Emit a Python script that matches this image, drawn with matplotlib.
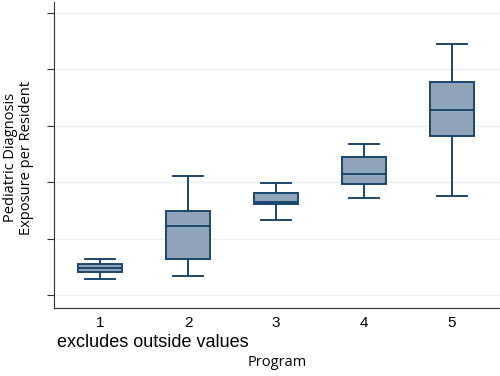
import matplotlib.pyplot as plt

# box plot summary per program (whisker low, q1, median, q3, whisker high)
programs = [1, 2, 3, 4, 5]
whislo = [0.28, 0.34, 1.33, 1.71, 1.76]
q1 = [0.41, 0.64, 1.62, 1.96, 2.81]
med = [0.48, 1.23, 1.65, 2.15, 3.27]
q3 = [0.55, 1.49, 1.81, 2.44, 3.78]
whishi = [0.64, 2.10, 1.99, 2.67, 4.44]
ytick_vals = [0, 1, 2, 3, 4, 5]

navy = '#1a476f'
fill = '#90a4b9'

plt.rcParams['font.family'] = ['Liberation Sans', 'DejaVu Sans']

fig = plt.figure(figsize=(5, 3.76), dpi=100)
ax = fig.add_axes([0.108, 0.181, 0.892, 0.815])

stats = []
for i in range(len(programs)):
    stats.append({'whislo': whislo[i], 'q1': q1[i], 'med': med[i],
                  'q3': q3[i], 'whishi': whishi[i], 'fliers': []})

ax.bxp(stats, positions=programs, widths=0.51, patch_artist=True,
       showfliers=False,
       boxprops=dict(facecolor=fill, edgecolor=navy, linewidth=1.4),
       medianprops=dict(color=navy, linewidth=1.4),
       whiskerprops=dict(color=navy, linewidth=1.4),
       capprops=dict(color=navy, linewidth=1.4),
       capwidths=0.34)

ax.set_xlim(0.477, 5.545)
ax.set_ylim(-0.23, 5.2)
ax.set_yticks(ytick_vals)
ax.set_yticklabels([])
ax.set_xticks(programs)
ax.set_xticklabels([str(p) for p in programs], fontsize=11)
ax.tick_params(axis='y', length=5, color='#333333')
ax.tick_params(axis='x', length=0, pad=6)
ax.yaxis.grid(True, color='#eaf2f3', linewidth=1)
ax.set_axisbelow(True)

for s in ['top', 'right']:
    ax.spines[s].set_visible(False)
ax.spines['left'].set_color('#333333')
ax.spines['bottom'].set_color('#333333')

fig.text(0.037, 0.58, 'Pediatric Diagnosis\nExposure per Resident', rotation=90,
         ha='center', va='center', fontsize=10.5, family=['Open Sans', 'DejaVu Sans'],
         linespacing=1.15)
fig.text(0.114, 0.09, 'excludes outside values', ha='left', va='center', fontsize=13)
fig.text(0.554, 0.037, 'Program', ha='center', va='center', fontsize=10.5,
         family=['Open Sans', 'DejaVu Sans'])

fig.savefig('out.png', dpi=100)
